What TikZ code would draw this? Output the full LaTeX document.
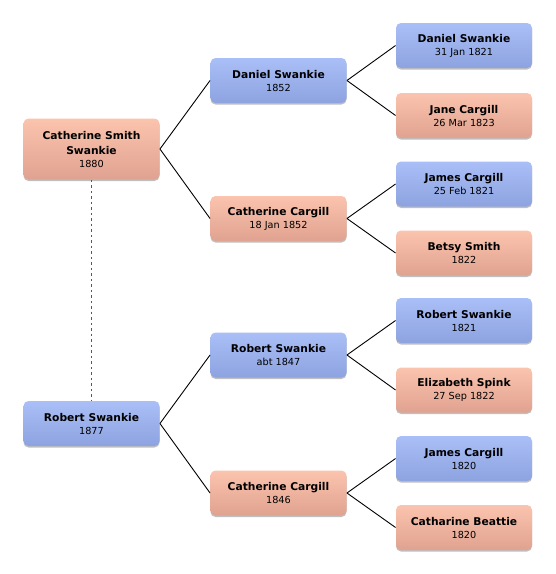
\documentclass[tikz,border=0pt]{standalone}
\usepackage{fontspec}
\setmainfont{DejaVu Sans}
\usetikzlibrary{shadows}

\definecolor{manTop}{HTML}{AABFF7}
\definecolor{manBot}{HTML}{8DA3E0}
\definecolor{womanTop}{HTML}{FBC4AE}
\definecolor{womanBot}{HTML}{E0A290}

\newcommand{\pname}[1]{{\fontsize{10.7}{14}\bfseries #1}}
\newcommand{\pdate}[1]{{\fontsize{9.7}{12}\selectfont #1}}
\newcommand{\person}[2]{\pname{#1}\\[1pt]\pdate{#2}}

\begin{document}
\begin{tikzpicture}[x=1pt, y=-1pt,
    line width = 0.9pt,
    card/.style = {
      rounded corners = 5pt,
      align = center,
      inner sep = 2pt,
      minimum width = 136pt,
      minimum height = 45pt,
      drop shadow = {shadow xshift = 0pt, shadow yshift = -1.5pt,
                     opacity = 0.25, fill = black}
    },
    man/.style = {card, top color = manTop, bottom color = manBot},
    woman/.style = {card, top color = womanTop, bottom color = womanBot}
  ]
  \useasboundingbox (0,0) rectangle (556,574);

  % children
  \node[woman, minimum height = 61pt] (cath) at (91.5,149) {\pname{Catherine Smith}\\[3pt]\pname{Swankie}\\[1pt]\pdate{1880}};
  \node[man] (rob) at (91.5,423.5) {\person{Robert Swankie}{1877}};

  % parents
  \node[man]   (dan)   at (278.5,80.5) {\person{Daniel Swankie}{1852}};
  \node[woman] (cathc) at (278.5,218.5) {\person{Catherine Cargill}{18 Jan 1852}};
  \node[man]   (robs)  at (278.5,355)   {\person{Robert Swankie}{abt 1847}};
  \node[woman] (cathd) at (278.5,493)   {\person{Catherine Cargill}{1846}};

  % grandparents
  \node[man]   (dans)  at (464,45.5)  {\person{Daniel Swankie}{31 Jan 1821}};
  \node[woman] (jane)  at (464,115.5) {\person{Jane Cargill}{26 Mar 1823}};
  \node[man]   (jamea) at (464,184)   {\person{James Cargill}{25 Feb 1821}};
  \node[woman] (betsy) at (464,253)   {\person{Betsy Smith}{1822}};
  \node[man]   (robt)  at (464,320.5) {\person{Robert Swankie}{1821}};
  \node[woman] (eliz)  at (464,390)   {\person{Elizabeth Spink}{27 Sep 1822}};
  \node[man]   (jameb) at (464,458.5) {\person{James Cargill}{1820}};
  \node[woman] (beat)  at (464,527.5) {\person{Catharine Beattie}{1820}};

  \draw[gray!70!black, line width = 1.3pt, dash pattern = on 2.5pt off 3pt] (cath.south) -- (rob.north);

  \draw (cath.east) -- (dan.west);
  \draw (cath.east) -- (cathc.west);
  \draw (rob.east) -- (robs.west);
  \draw (rob.east) -- (cathd.west);

  \draw (dan.east) -- (dans.west);
  \draw (dan.east) -- (jane.west);
  \draw (cathc.east) -- (jamea.west);
  \draw (cathc.east) -- (betsy.west);
  \draw (robs.east) -- (robt.west);
  \draw (robs.east) -- (eliz.west);
  \draw (cathd.east) -- (jameb.west);
  \draw (cathd.east) -- (beat.west);
\end{tikzpicture}
\end{document}
